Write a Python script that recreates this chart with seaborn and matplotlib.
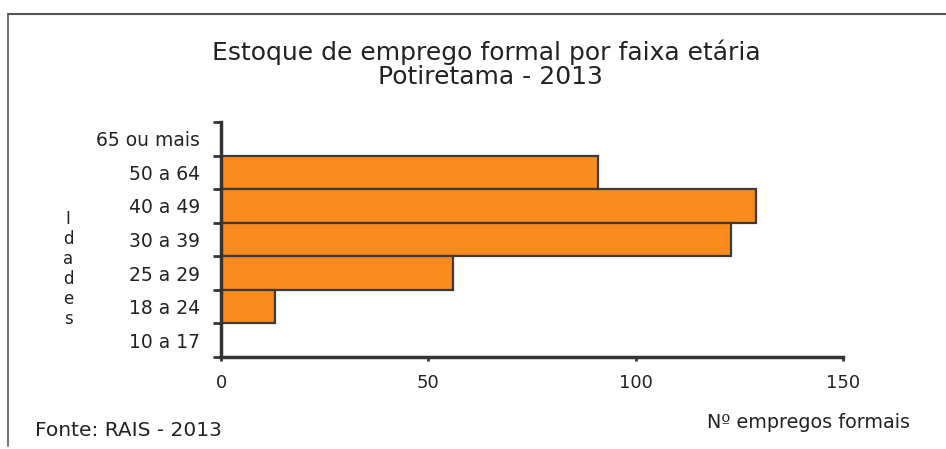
import numpy as np
import pandas as pd
import matplotlib
matplotlib.use("Agg")
import matplotlib.pyplot as plt
import seaborn as sns

categories = ["65 ou mais", "50 a 64", "40 a 49", "30 a 39", "25 a 29", "18 a 24", "10 a 17"]
values = [0, 91, 129, 123, 56, 13, 0]
xticks = [0, 50, 100, 150]

sns.set_style("white")
plt.rcParams['font.family'] = ['DejaVu Sans']

df = pd.DataFrame({"faixa": categories, "empregos": values})

fig = plt.figure(figsize=(9.46, 4.49), dpi=100)
ax = fig.add_axes([221/946, 92/449, 622/946, 235/449])

sns.barplot(data=df, y="faixa", x="empregos", order=categories, orient="h",
            color="#F98B1F", saturation=1, width=1.0, edgecolor="#3a3a3a",
            linewidth=1.6, ax=ax)

ax.set_xlim(0, 150)
ax.set_ylim(len(categories) - 0.5, -0.5)
ax.set_xticks(xticks)
ax.set_xticklabels([str(t) for t in xticks], fontsize=13, color="#222222")
ax.set_yticks(np.arange(-0.5, len(categories), 1.0))
ax.set_yticklabels([])
ax.set_yticks(np.arange(len(categories)), minor=True)
ax.set_yticklabels(categories, minor=True, fontsize=13.5, color="#222222")
ax.tick_params(axis="y", which="major", direction="out", length=6, width=2, color="#333333", left=True)
ax.tick_params(axis="y", which="minor", length=0, pad=15)
ax.tick_params(axis="x", which="major", direction="out", length=3, width=2, color="#333333", bottom=True, pad=9)
ax.set_xlabel("")
ax.set_ylabel("")
for s in ["top", "right"]:
    ax.spines[s].set_visible(False)
for s in ["left", "bottom"]:
    ax.spines[s].set_color("#333333")
    ax.spines[s].set_linewidth(2.5)

fig.text(486/946, 1 - 60/449, "Estoque de emprego formal por faixa etária", ha="center", va="baseline",
         fontsize=18, color="#222222")
fig.text(490/946, 1 - 84/449, "Potiretama - 2013", ha="center", va="baseline",
         fontsize=18, color="#222222")
fig.text(68/946, 1 - 269/449, "\n".join("Idades"), ha="center", va="center",
         fontsize=12, color="#222222", linespacing=1.15)
fig.text(35/946, 1 - 430/449, "Fonte: RAIS - 2013", ha="left", va="center",
         fontsize=14.5, color="#222222")
fig.text(707/946, 1 - 423/449, "Nº empregos formais", ha="left", va="center",
         fontsize=13.8, color="#222222")

# frame lines
fig.add_artist(plt.Line2D([8/946, 1], [1 - 14/449, 1 - 14/449], transform=fig.transFigure,
                          color="#555555", linewidth=1.5))
fig.add_artist(plt.Line2D([8/946, 8/946], [1 - 14/449, 1 - 446/449], transform=fig.transFigure,
                          color="#555555", linewidth=1.2))

fig.savefig("out.png", dpi=100, facecolor="white")
